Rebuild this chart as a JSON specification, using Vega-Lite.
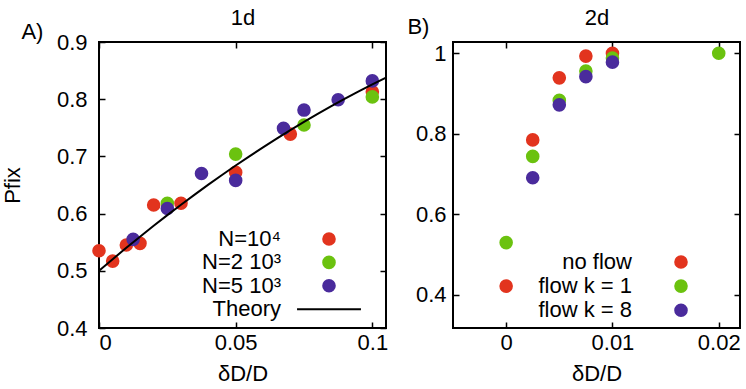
{
  "$schema": "https://vega.github.io/schema/vega-lite/v6.json",
  "background": "white",
  "padding": {"left": 0, "top": 5, "right": 5, "bottom": 5},
  "config": {
    "font": "Liberation Sans",
    "view": {"stroke": "black", "strokeWidth": 2},
    "axis": {
      "grid": false, "domain": false,
      "labelFontSize": 22, "titleFontSize": 22, "labelColor": "black", "titleColor": "black",
      "titleFontWeight": "normal", "tickColor": "black", "tickSize": -6, "tickWidth": 1.5,
      "labelFont": "Liberation Sans", "titleFont": "Liberation Sans"
    },
    "legend": {"labelFontSize": 22, "labelColor": "black", "labelFont": "Liberation Sans", "padding": 0},
    "title": {"fontSize": 22, "fontWeight": "normal", "color": "black", "font": "Liberation Sans"}
  },
  "spacing": 17,
  "resolve": {
    "scale": {"color": "independent", "fill": "independent", "stroke": "independent", "shape": "independent", "size": "independent"},
    "legend": {"color": "independent", "fill": "independent", "stroke": "independent", "shape": "independent", "size": "independent"}
  },
  "hconcat": [
    {
      "width": 287,
      "height": 286,
      "title": {"text": "A)", "anchor": "start", "frame": "bounds", "dx": 20, "dy": 42},
      "layer": [
        {
          "data": {"values": [
            {"x": 0, "y": 0.535, "series": "N=10⁴"},
            {"x": 0.005, "y": 0.517, "series": "N=10⁴"},
            {"x": 0.01, "y": 0.545, "series": "N=10⁴"},
            {"x": 0.015, "y": 0.548, "series": "N=10⁴"},
            {"x": 0.02, "y": 0.615, "series": "N=10⁴"},
            {"x": 0.03, "y": 0.618, "series": "N=10⁴"},
            {"x": 0.05, "y": 0.672, "series": "N=10⁴"},
            {"x": 0.07, "y": 0.739, "series": "N=10⁴"},
            {"x": 0.1, "y": 0.813, "series": "N=10⁴"},
            {"x": 0.025, "y": 0.618, "series": "N=2 10³"},
            {"x": 0.05, "y": 0.704, "series": "N=2 10³"},
            {"x": 0.075, "y": 0.755, "series": "N=2 10³"},
            {"x": 0.1, "y": 0.804, "series": "N=2 10³"},
            {"x": 0.0125, "y": 0.555, "series": "N=5 10³"},
            {"x": 0.025, "y": 0.609, "series": "N=5 10³"},
            {"x": 0.0375, "y": 0.67, "series": "N=5 10³"},
            {"x": 0.05, "y": 0.658, "series": "N=5 10³"},
            {"x": 0.0675, "y": 0.749, "series": "N=5 10³"},
            {"x": 0.075, "y": 0.781, "series": "N=5 10³"},
            {"x": 0.0875, "y": 0.799, "series": "N=5 10³"},
            {"x": 0.1, "y": 0.832, "series": "N=5 10³"}
          ]},
          "mark": {"type": "point", "filled": true, "opacity": 1, "size": 185, "strokeWidth": 0},
          "encoding": {
            "x": {"field": "x", "type": "quantitative",
              "scale": {"domain": [0, 0.105], "nice": false, "zero": false},
              "axis": {"orient": "bottom", "title": "δD/D", "values": [0, 0.05, 0.1], "format": "~g", "labelPadding": 10, "titlePadding": 10}},
            "y": {"field": "y", "type": "quantitative",
              "scale": {"domain": [0.4, 0.9], "nice": false, "zero": false},
              "axis": {"orient": "left", "title": "Pfix", "values": [0.4, 0.5, 0.6, 0.7, 0.8, 0.9], "format": "~g", "labelPadding": 18, "titlePadding": 32}},
            "fill": {"field": "series", "type": "nominal", "sort": null,
              "scale": {"domain": ["N=10⁴", "N=2 10³", "N=5 10³", "Theory"], "range": ["#e2341e", "#6bc20f", "#4a2b9c", "black"]},
              "legend": {"title": " ", "titleOrient": "right", "titleFontSize": 1, "titlePadding": 14, "orient": "bottom-right", "offset": 7, "labelAlign": "right", "labelOffset": -59, "rowPadding": 1.4, "symbolSize": 135, "symbolStrokeWidth": 2}},
            "stroke": {"field": "series", "type": "nominal", "sort": null,
              "scale": {"domain": ["N=10⁴", "N=2 10³", "N=5 10³", "Theory"], "range": ["#e2341e", "#6bc20f", "#4a2b9c", "black"]},
              "legend": {"title": " ", "titleOrient": "right", "titleFontSize": 1, "titlePadding": 14, "orient": "bottom-right", "offset": 7, "labelAlign": "right", "labelOffset": -59, "rowPadding": 1.4, "symbolSize": 135, "symbolStrokeWidth": 2}},
            "shape": {"field": "series", "type": "nominal", "sort": null,
              "scale": {"domain": ["N=10⁴", "N=2 10³", "N=5 10³", "Theory"], "range": ["circle", "circle", "circle", "M-5.5,0H5.5"]},
              "legend": {"title": " ", "titleOrient": "right", "titleFontSize": 1, "titlePadding": 14, "orient": "bottom-right", "offset": 7, "labelAlign": "right", "labelOffset": -59, "rowPadding": 1.4, "symbolSize": 135, "symbolStrokeWidth": 2}}
          }
        },
        {
          "data": {"values": [
            {"x": 0, "y": 0.5}, {"x": 0.005, "y": 0.5203}, {"x": 0.01, "y": 0.5402}, {"x": 0.015, "y": 0.5596},
            {"x": 0.02, "y": 0.5786}, {"x": 0.025, "y": 0.5973}, {"x": 0.03, "y": 0.6154}, {"x": 0.035, "y": 0.6332},
            {"x": 0.04, "y": 0.6506}, {"x": 0.045, "y": 0.6675}, {"x": 0.05, "y": 0.684}, {"x": 0.055, "y": 0.7001},
            {"x": 0.06, "y": 0.7158}, {"x": 0.065, "y": 0.731}, {"x": 0.07, "y": 0.7458}, {"x": 0.075, "y": 0.7603},
            {"x": 0.08, "y": 0.7742}, {"x": 0.085, "y": 0.7878}, {"x": 0.09, "y": 0.801}, {"x": 0.095, "y": 0.8137},
            {"x": 0.1, "y": 0.826}, {"x": 0.105, "y": 0.8379}
          ]},
          "mark": {"type": "line", "color": "black", "strokeWidth": 2, "clip": true},
          "encoding": {
            "x": {"field": "x", "type": "quantitative",
              "axis": {"orient": "top", "labels": false, "title": "1d", "values": [0, 0.05, 0.1], "titlePadding": 12}},
            "y": {"field": "y", "type": "quantitative",
              "axis": {"orient": "right", "labels": false, "title": null, "values": [0.4, 0.5, 0.6, 0.7, 0.8, 0.9]}}
          }
        }
      ],
      "resolve": {"axis": {"x": "independent", "y": "independent"}}
    },
    {
      "width": 287,
      "height": 286,
      "title": {"text": "B)", "anchor": "start", "frame": "bounds", "dx": -8, "dy": 37},
      "layer": [
        {
          "data": {"values": [
            {"x": 0, "y": 0.422, "series": "no flow"},
            {"x": 0.0025, "y": 0.785, "series": "no flow"},
            {"x": 0.005, "y": 0.939, "series": "no flow"},
            {"x": 0.0075, "y": 0.993, "series": "no flow"},
            {"x": 0.01, "y": 1.0, "series": "no flow"},
            {"x": 0, "y": 0.53, "series": "flow k = 1"},
            {"x": 0.0025, "y": 0.744, "series": "flow k = 1"},
            {"x": 0.005, "y": 0.883, "series": "flow k = 1"},
            {"x": 0.0075, "y": 0.956, "series": "flow k = 1"},
            {"x": 0.01, "y": 0.988, "series": "flow k = 1"},
            {"x": 0.02, "y": 1.0, "series": "flow k = 1"},
            {"x": 0.0025, "y": 0.691, "series": "flow k = 8"},
            {"x": 0.005, "y": 0.872, "series": "flow k = 8"},
            {"x": 0.0075, "y": 0.942, "series": "flow k = 8"},
            {"x": 0.01, "y": 0.978, "series": "flow k = 8"}
          ]},
          "mark": {"type": "point", "filled": true, "opacity": 1, "size": 185},
          "encoding": {
            "x": {"field": "x", "type": "quantitative",
              "scale": {"domain": [-0.005, 0.022], "nice": false, "zero": false},
              "axis": {"orient": "bottom", "title": "δD/D", "values": [0, 0.01, 0.02], "format": "~g", "labelPadding": 10, "titlePadding": 10}},
            "y": {"field": "y", "type": "quantitative",
              "scale": {"domain": [0.318, 1.028], "nice": false, "zero": false},
              "axis": {"orient": "left", "title": null, "values": [0.4, 0.6, 0.8, 1], "format": "~g", "labelPadding": 13}},
            "color": {"field": "series", "type": "nominal", "sort": null,
              "scale": {"domain": ["no flow", "flow k = 1", "flow k = 8"], "range": ["#e2341e", "#6bc20f", "#4a2b9c"]},
              "legend": {"title": " ", "titleOrient": "right", "titleFontSize": 1, "titlePadding": 46, "orient": "bottom-right", "offset": 6, "labelAlign": "right", "labelOffset": -60, "rowPadding": 2.1, "symbolSize": 185, "symbolType": "circle"}}
          }
        },
        {
          "data": {"values": [
            {"x": 0, "y": 0.53},
            {"x": 0.02, "y": 1.0}
          ]},
          "mark": {"type": "point", "opacity": 0},
          "encoding": {
            "x": {"field": "x", "type": "quantitative",
              "axis": {"orient": "top", "labels": false, "title": "2d", "values": [0, 0.01, 0.02], "titlePadding": 12}},
            "y": {"field": "y", "type": "quantitative",
              "axis": {"orient": "right", "labels": false, "title": null, "values": [0.4, 0.6, 0.8, 1]}}
          }
        }
      ],
      "resolve": {"axis": {"x": "independent", "y": "independent"}}
    }
  ]
}
